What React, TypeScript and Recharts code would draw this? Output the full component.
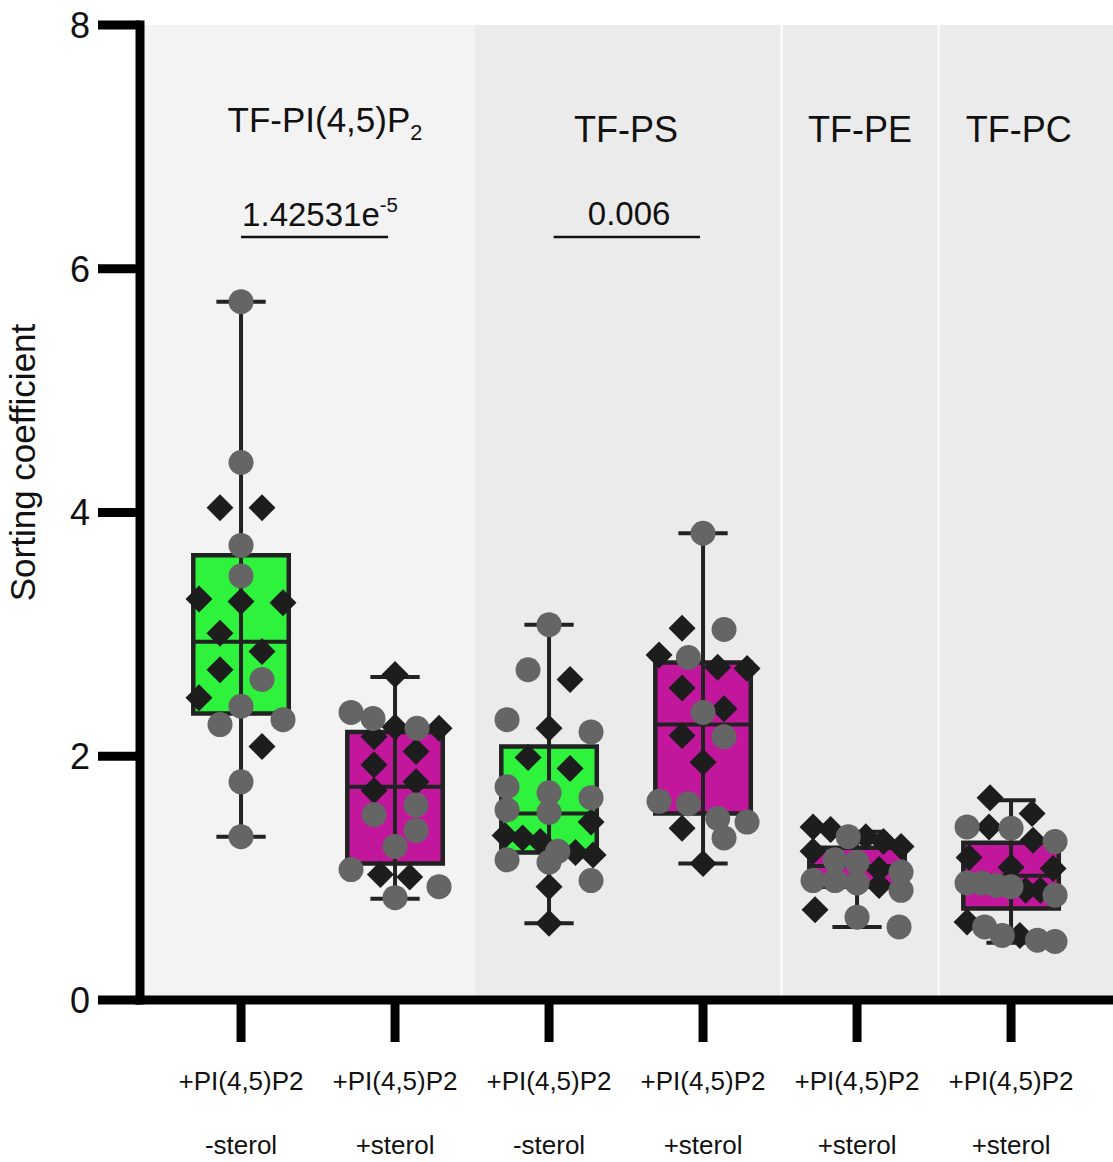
import React from 'react';
import {
  ComposedChart,
  XAxis,
  YAxis,
  Scatter,
  ReferenceArea,
  ReferenceLine,
  ReferenceDot,
} from 'recharts';

const FONT = '"Liberation Sans", Arial, Helvetica, sans-serif';

// ---- data ----
const lipidLabels = ['+PI(4,5)P2', '+PI(4,5)P2', '+PI(4,5)P2', '+PI(4,5)P2', '+PI(4,5)P2', '+PI(4,5)P2'];
const sterolLabels = ['-sterol', '+sterol', '-sterol', '+sterol', '+sterol', '+sterol'];
const boxColors = ['#2ff23d', '#c2179d', '#2ff23d', '#c2179d', '#c2179d', '#c2179d'];

const boxMin = [1.34, 0.83, 0.63, 1.12, 0.6, 0.47];
const boxQ1 = [2.35, 1.12, 1.21, 1.53, 0.93, 0.75];
const boxMedian = [2.94, 1.75, 1.53, 2.26, 1.1, 1.02];
const boxQ3 = [3.65, 2.2, 2.08, 2.77, 1.25, 1.29];
const boxMax = [5.73, 2.65, 3.08, 3.83, 1.38, 1.64];

const circleValues = [
  [5.73, 4.41, 3.73, 3.48, 2.63, 2.41, 2.3, 2.26, 1.79, 1.34],
  [2.36, 2.31, 2.23, 1.6, 1.52, 1.39, 1.26, 1.07, 0.93, 0.84],
  [3.08, 2.71, 2.3, 2.2, 1.75, 1.7, 1.66, 1.56, 1.54, 1.22, 1.15, 1.13, 0.98],
  [3.83, 3.04, 2.81, 2.36, 2.16, 1.63, 1.61, 1.49, 1.46, 1.33],
  [1.34, 1.15, 1.13, 1.05, 0.98, 0.98, 0.96, 0.9, 0.68, 0.6],
  [1.42, 1.41, 1.3, 0.96, 0.96, 0.94, 0.93, 0.86, 0.6, 0.53, 0.49, 0.48],
];
const diamondValues = [
  [4.04, 4.04, 3.29, 3.27, 3.26, 3.01, 2.86, 2.71, 2.48, 2.08],
  [2.67, 2.24, 2.23, 2.16, 2.04, 1.93, 1.79, 1.72, 1.03, 1.01],
  [2.63, 2.23, 1.99, 1.9, 1.46, 1.35, 1.33, 1.3, 1.21, 1.19, 0.93, 0.63],
  [3.05, 2.83, 2.73, 2.72, 2.56, 2.39, 2.17, 1.95, 1.41, 1.12],
  [1.42, 1.4, 1.34, 1.3, 1.26, 1.22, 1.07, 0.94, 0.74],
  [1.66, 1.53, 1.42, 1.31, 1.17, 1.09, 1.08, 0.9, 0.9, 0.64, 0.53],
];

const yTicks = [0, 2, 4, 6, 8];
const xTicks = [0, 1, 2, 3, 4, 5];

// comparison bars and p-values
const comparisons = [
  { from: 0, to: 0.955, y: 6.26, text: '1.42531e', sup: '-5', labelX: 0.513, labelY: 6.35 },
  { from: 2.03, to: 2.98, y: 6.26, text: '0.006', sup: '', labelX: 2.52, labelY: 6.36 },
];
const titles = [
  { text: 'TF-PI(4,5)P', sub: '2', x: 0.545, y: 7.12 },
  { text: 'TF-PS', sub: '', x: 2.5, y: 7.04 },
  { text: 'TF-PE', sub: '', x: 4.02, y: 7.04 },
  { text: 'TF-PC', sub: '', x: 5.05, y: 7.04 },
];

// ---- layout ----
const W = 1113;
const H = 1162;
const Y_AXIS_W = 140;
const PLOT_TOP = 25;
const X_AXIS_H = 162;
const X_DOMAIN: [number, number] = [-0.656, 5.662];
const Y_DOMAIN: [number, number] = [0, 8];
const PX_PER_Y = (H - X_AXIS_H - PLOT_TOP) / (Y_DOMAIN[1] - Y_DOMAIN[0]);

const BOX_HALF = 0.31;
const CAP_HALF = 0.16;
const LINE = '#222';

// simple row-based swarm, like Prism's scatter columns
function swarm(group: number) {
  const pts = [
    ...circleValues[group].map((v) => ({ v, kind: 'c' })),
    ...diamondValues[group].map((v) => ({ v, kind: 'd' })),
  ].sort((a, b) => b.v - a.v);
  const rows: { v: number; kind: string }[][] = [];
  for (const p of pts) {
    const last = rows[rows.length - 1];
    if (last && (last[0].v - p.v) * PX_PER_Y < 22) last.push(p);
    else rows.push([p]);
  }
  const out: { x: number; y: number; dx: number; kind: string }[] = [];
  rows.forEach((row) => {
    const n = row.length;
    const step = n > 1 ? Math.min(42, 88 / (n - 1)) : 0;
    row.forEach((p, k) => out.push({ x: group, y: p.v, dx: (k - (n - 1) / 2) * step, kind: p.kind }));
  });
  return out;
}

const allPoints = xTicks.flatMap((g) => swarm(g));
const circlePoints = allPoints.filter((p) => p.kind === 'c');
const diamondPoints = allPoints.filter((p) => p.kind === 'd');

const CircleDot = (p: any) => (
  <circle cx={p.cx + p.payload.dx} cy={p.cy} r={12.5} fill="#656565" />
);
const DiamondDot = (p: any) => {
  const cx = p.cx + p.payload.dx;
  const cy = p.cy;
  const r = 13.5;
  return (
    <polygon points={`${cx},${cy - r} ${cx + r},${cy} ${cx},${cy + r} ${cx - r},${cy}`} fill="#1d1d1d" />
  );
};

const XTick = ({ x, y, payload }: any) => (
  <g>
    <text x={x} y={y + 46} textAnchor="middle" fontSize={26} fontFamily={FONT} fill="#111">
      {lipidLabels[payload.value]}
    </text>
    <text x={x} y={y + 110} textAnchor="middle" fontSize={26} fontFamily={FONT} fill="#111">
      {sterolLabels[payload.value]}
    </text>
  </g>
);

const textLabel = (main: string, extra: string, kind: 'sub' | 'sup', size: number) => (props: any) => {
  const vb = props.viewBox;
  const cx = vb.x + vb.width / 2;
  const cy = vb.y + vb.height / 2;
  return (
    <text x={cx} y={cy} textAnchor="middle" fontSize={size} fontFamily={FONT} fill="#111">
      {main}
      {extra && (
        <tspan fontSize={size * 0.62} dy={kind === 'sub' ? size * 0.22 : -size * 0.42}>
          {extra}
        </tspan>
      )}
    </text>
  );
};

const YLabel = (props: any) => {
  const vb = props.viewBox;
  const x = vb.x + 22;
  const y = vb.y + vb.height / 2 - 50;
  return (
    <text
      transform={`translate(${x}, ${y}) rotate(-90)`}
      textAnchor="middle"
      dominantBaseline="central"
      fontSize={35}
      fontFamily={FONT}
      fill="#111"
    >
      Sorting coefficient
    </text>
  );
};

export default function App() {
  return (
    <div style={{ position: 'absolute', left: 0, top: 0, width: W, height: H, background: '#fff' }}>
      <ComposedChart width={W} height={H} margin={{ top: PLOT_TOP, right: 0, bottom: 0, left: 0 }}>
        <XAxis
          type="number"
          dataKey="x"
          domain={X_DOMAIN}
          allowDataOverflow
          ticks={xTicks}
          interval={0}
          height={X_AXIS_H}
          tickSize={42}
          tickMargin={2}
          axisLine={{ stroke: '#000', strokeWidth: 9, strokeLinecap: 'square' }}
          tickLine={{ stroke: '#000', strokeWidth: 9 }}
          tick={<XTick />}
        />
        <YAxis
          type="number"
          dataKey="y"
          domain={Y_DOMAIN}
          allowDataOverflow
          ticks={yTicks}
          width={Y_AXIS_W}
          tickSize={42}
          tickMargin={8}
          axisLine={{ stroke: '#000', strokeWidth: 9, strokeLinecap: 'square' }}
          tickLine={{ stroke: '#000', strokeWidth: 9 }}
          tick={{ fontSize: 36, fontFamily: FONT, fill: '#111' }}
          label={YLabel}
        />

        {/* background panels */}
        <ReferenceArea x2={1.52} fill="#f3f3f3" fillOpacity={1} stroke="none" />
        <ReferenceArea x1={1.52} x2={3.51} fill="#ebebeb" fillOpacity={1} stroke="none" />
        <ReferenceArea x1={3.51} x2={4.53} fill="#ebebeb" fillOpacity={1} stroke="none" />
        <ReferenceArea x1={4.53} fill="#ebebeb" fillOpacity={1} stroke="none" />
        <ReferenceLine x={3.51} stroke="#fff" strokeWidth={2} />
        <ReferenceLine x={4.53} stroke="#fff" strokeWidth={2} />

        {/* box plots */}
        {xTicks.map((i) => (
          <ReferenceLine
            key={`wl${i}`}
            segment={[{ x: i, y: boxMin[i] }, { x: i, y: boxMax[i] }]}
            stroke={LINE}
            strokeWidth={4}
          />
        ))}
        {xTicks.map((i) => (
          <ReferenceLine
            key={`ct${i}`}
            segment={[{ x: i - CAP_HALF, y: boxMax[i] }, { x: i + CAP_HALF, y: boxMax[i] }]}
            stroke={LINE}
            strokeWidth={4}
          />
        ))}
        {xTicks.map((i) => (
          <ReferenceLine
            key={`cb${i}`}
            segment={[{ x: i - CAP_HALF, y: boxMin[i] }, { x: i + CAP_HALF, y: boxMin[i] }]}
            stroke={LINE}
            strokeWidth={4}
          />
        ))}
        {xTicks.map((i) => (
          <ReferenceArea
            key={`bx${i}`}
            x1={i - BOX_HALF}
            x2={i + BOX_HALF}
            y1={boxQ1[i]}
            y2={boxQ3[i]}
            fill={boxColors[i]}
            fillOpacity={1}
            stroke={LINE}
            strokeWidth={4.5}
          />
        ))}
        {xTicks.map((i) => (
          <ReferenceLine
            key={`md${i}`}
            segment={[{ x: i - BOX_HALF, y: boxMedian[i] }, { x: i + BOX_HALF, y: boxMedian[i] }]}
            stroke={LINE}
            strokeWidth={4}
          />
        ))}

        {/* comparisons and titles */}
        {comparisons.map((c, k) => (
          <ReferenceLine
            key={`cmp${k}`}
            segment={[{ x: c.from, y: c.y }, { x: c.to, y: c.y }]}
            stroke="#111"
            strokeWidth={2.5}
          />
        ))}
        {comparisons.map((c, k) => (
          <ReferenceDot
            key={`cmpl${k}`}
            x={c.labelX}
            y={c.labelY}
            r={1}
            fill="none"
            stroke="none"
            label={textLabel(c.text, c.sup, 'sup', 33)}
          />
        ))}
        {titles.map((t, k) => (
          <ReferenceDot
            key={`t${k}`}
            x={t.x}
            y={t.y}
            r={1}
            fill="none"
            stroke="none"
            label={textLabel(t.text, t.sub, 'sub', k === 0 ? 35 : 36)}
          />
        ))}

        <Scatter data={diamondPoints} shape={DiamondDot} isAnimationActive={false} />
        <Scatter data={circlePoints} shape={CircleDot} isAnimationActive={false} />
      </ComposedChart>
    </div>
  );
}
